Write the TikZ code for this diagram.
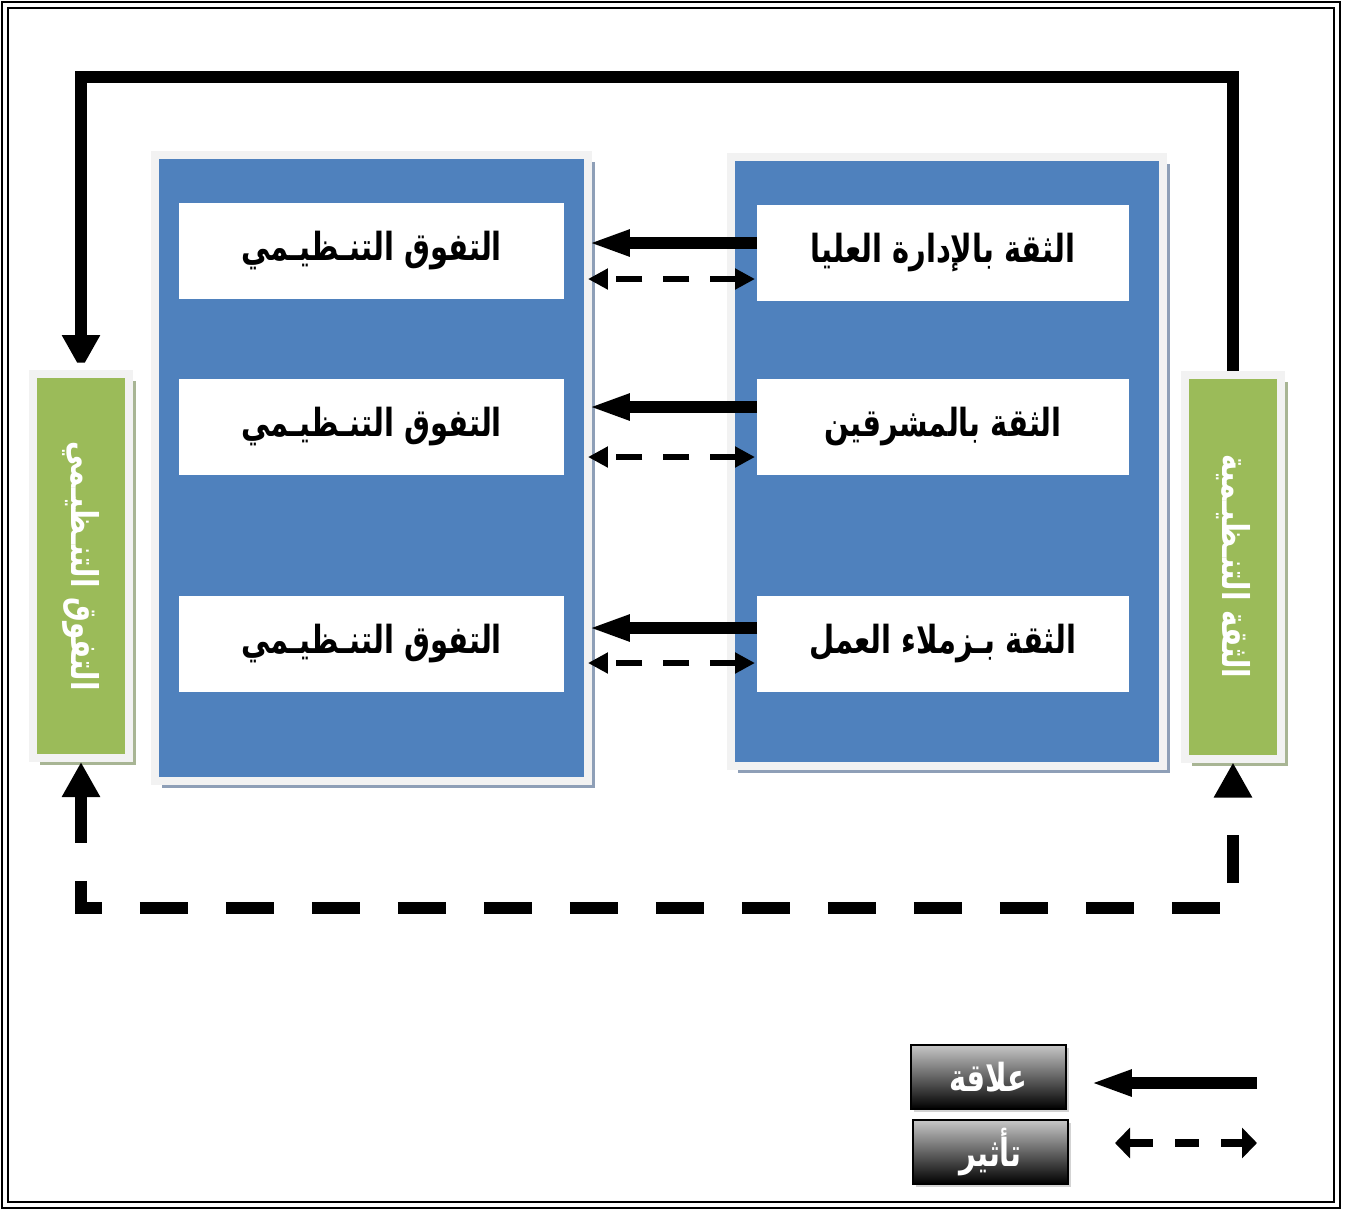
\documentclass[tikz,border=0pt]{standalone}
\usepackage{fontspec}
\usetikzlibrary{arrows.meta,calc,shadows}
\newfontfamily\arabicfont[Script=Arabic,FakeStretch=0.75]{DejaVu Sans}
\TeXXeTstate=1
\definecolor{panelblue}{HTML}{4F81BD}
\definecolor{boxgreen}{HTML}{9BBB59}
\definecolor{rimgray}{HTML}{F2F2F2}
\definecolor{blueshade}{HTML}{8E9FB7}
\definecolor{greenshade}{HTML}{A8B594}
\newcommand{\artext}[1]{\arabicfont\bfseries\beginR #1\endR}

\begin{document}
\begin{tikzpicture}[x=0.1mm,y=-0.1mm,
  panel/.style={fill=panelblue,draw=rimgray,line width=0.8mm,inner sep=0pt,outer sep=0pt,
    drop shadow={shadow xshift=0.7mm,shadow yshift=-0.7mm,fill=blueshade,opacity=1}},
  gbox/.style={fill=boxgreen,draw=rimgray,line width=0.8mm,inner sep=0pt,
    minimum width=9.6mm,minimum height=38.4mm,
    drop shadow={shadow xshift=0.7mm,shadow yshift=-0.7mm,fill=greenshade,opacity=1}},
  wbox/.style={fill=white,inner sep=0pt,outer sep=0pt,minimum height=9.6mm,
    font=\fontsize{11}{13}\selectfont},
  keybox/.style={top color=black!22,bottom color=black,draw=black,line width=0.5pt,
    inner sep=0pt,minimum width=15.5mm,minimum height=6.4mm,text=white,
    font=\fontsize{11}{13}\selectfont,
    drop shadow={shadow xshift=0.3mm,shadow yshift=-0.3mm,opacity=0.35}},
  rel/.style={line width=1.2mm,-{Triangle[length=4.2mm,width=2.4mm]}},
  effect/.style={line width=0.6mm,dash pattern=on 2.6mm off 2.1mm,
    {Triangle[length=2mm,width=2mm]}-{Triangle[length=2mm,width=2mm]}},
  loopline/.style={line width=1.2mm,miter limit=2,-{Triangle[length=3.5mm,width=3.6mm]}},
  feedback/.style={line width=1.2mm,dash pattern=on 4.8mm off 3.8mm,
    {Triangle[length=3.5mm,width=3.6mm]}-{Triangle[length=3.5mm,width=3.6mm]}}]
\useasboundingbox (0,0) rectangle (1354,1210);
% double frame
\draw[line width=0.25mm] (2,2) rectangle (1340,1208);
\draw[line width=0.25mm] (8,8) rectangle (1334,1202);

% the two blue panels
\node[panel,minimum width=43.3mm,minimum height=62.6mm] (lpanel) at (371.5,468) {};
\node[panel,minimum width=43.2mm,minimum height=60.9mm] (rpanel) at (947,461.5) {};

% boxes inside the panels
\foreach \i/\y in {1/251,2/427,3/644}
  \node[wbox,minimum width=38.5mm] (l\i) at (371.5,\y) {\artext{التفوق التنـظيـمي}};
\node[wbox,minimum width=37.2mm] (r1) at (943,253) {\artext{الثقة بالإدارة العليا}};
\node[wbox,minimum width=37.2mm] (r2) at (943,427) {\artext{الثقة بالمشرقين}};
\node[wbox,minimum width=37.2mm] (r3) at (943,644) {\artext{الثقة بـزملاء العمل}};

% relation and effect arrows between the panels
\foreach \i/\a/\b in {1/-10/26,2/-20/30,3/-16/19}{
  \draw[rel] ($(r\i.west)+(0,\a)$) coordinate (s\i) -- (s\i -| lpanel.east);
  \draw[effect] ($(r\i.west)+(-2,\b)$) coordinate (d\i) -- (d\i -| lpanel.east);
}

% green side boxes
\node[gbox] (lg) at (81,566) {};
\node[rotate=-90,text=white,font=\fontsize{10.5}{12}\selectfont] (lgtext) at (lg.center) {\artext{التفوق التنـظيـمي}};
\node[gbox] (rg) at (1233,566.5) {};
\node[rotate=-90,text=white,font=\fontsize{10.5}{12}\selectfont] (rgtext) at (rg.center) {\artext{الثقة التنـظيـمية}};

% outer loop (relation) and return path (effect)
\coordinate (top) at (0,77);
\coordinate (base) at (0,908);
\draw[loopline] (rg.north) -- (rg.north |- top) -- (lg.north |- top) -- (lg.north);
\draw[feedback] (lg.south) -- (lg.south |- base) -- (rg.south |- base) -- (rg.south);

% key
\node[keybox] (k1) at (988.5,1077) {\artext{علاقة}};
\node[keybox] (k2) at (990.5,1152) {\artext{تأثير}};
\coordinate (k1a) at (1257,1083);
\coordinate (k1b) at (1090,1083);
\coordinate (k2a) at (1115,1143);
\coordinate (k2b) at (1257,1143);
\draw[rel] (k1a) -- (k1b);
\draw[line width=0.8mm,dash pattern=on 2.4mm off 2.2mm,
  {Triangle[length=1.5mm,width=3mm]}-{Triangle[length=1.5mm,width=3mm]}] (k2a) -- (k2b);
\end{tikzpicture}
\end{document}
